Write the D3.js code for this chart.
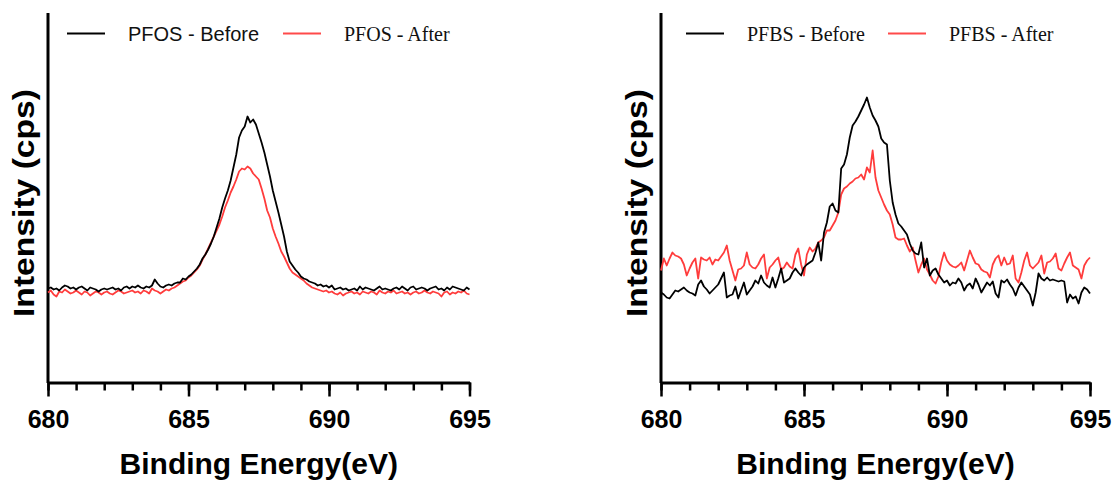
<!DOCTYPE html>
<html>
<head>
<meta charset="utf-8">
<title>XPS F 1s</title>
<script src="https://cdn.jsdelivr.net/npm/d3@7"></script>
<style>
  body { margin: 0; background: #fff; }
  svg { display: block; }
  .axis path, .axis line { stroke: #000; }
  .axis text { font: bold 25px "Liberation Sans", Arial, sans-serif; fill: #000; }
  .title { font: bold 30px "Liberation Sans", Arial, sans-serif; fill: #000; }
</style>
</head>
<body>
<script>
// binding energy grid, 0.1 eV steps from 680 to 695
var energy = d3.range(151).map(function (i) { return +(680 + i * 0.1).toFixed(1); });

var pfosBefore = [94,95,93,94,92,95,97,96,94,95,
  93,95,96,94,92,95,94,93,91,93,
  94,93,94,95,93,94,92,95,96,94,
  96,95,97,95,94,96,95,97,103,99,
  96,95,97,98,97,99,100,100,104,103,
  106,108,111,114,118,124,128,133,139,146,
  155,164,175,184,192,202,215,228,245,252,
  256,266,260,263,258,249,240,230,218,206,
  192,181,170,158,146,131,121,117,113,110,
  106,104,103,101,100,99,97,98,96,97,
  95,97,93,94,95,93,94,92,93,94,
  92,96,93,95,94,93,92,94,96,93,
  94,93,92,94,95,93,96,94,92,95,
  96,93,94,95,94,92,94,95,96,93,
  94,92,95,93,96,95,94,93,92,95,
  93];

var pfosAfter = [90,92,88,86,91,90,93,91,89,90,
  92,90,88,91,90,87,89,91,90,88,
  90,91,89,88,90,92,91,89,90,91,
  92,90,91,89,92,91,89,94,92,91,
  89,91,93,92,94,95,97,99,101,102,
  105,107,110,113,117,123,128,134,140,146,
  152,158,166,175,182,190,196,203,211,214,
  213,216,214,209,206,203,194,184,172,165,
  154,146,139,131,126,120,114,110,108,106,
  104,102,99,97,95,94,93,92,91,92,
  90,91,89,88,90,87,89,90,91,89,
  90,88,91,90,89,91,90,88,92,90,
  89,91,90,92,89,90,91,89,90,88,
  90,91,89,90,92,90,89,91,90,89,
  86,90,91,88,90,89,91,90,92,89,
  88];

var pfbsBefore = [90,88,85,84,88,92,91,93,95,92,
  90,89,87,98,102,96,93,89,92,95,
  98,104,110,85,87,88,96,84,92,100,
  88,92,96,102,99,107,100,97,95,105,
  95,104,114,100,102,104,110,114,110,107,
  115,118,120,122,130,140,122,150,160,176,
  179,172,170,214,218,228,245,257,261,266,
  272,278,285,275,267,262,256,244,240,238,
  202,180,168,159,156,152,148,139,132,129,
  128,140,115,124,107,112,114,108,104,100,
  102,97,100,99,104,100,92,97,99,94,
  104,98,90,95,100,97,101,89,85,102,
  100,103,98,94,87,95,100,96,92,88,
  77,90,109,104,102,105,102,103,102,101,
  102,101,80,88,84,86,79,90,95,93,
  89];

var pfbsAfter = [112,124,117,124,130,127,126,124,118,107,
  114,120,124,104,125,123,122,125,118,123,
  122,126,130,137,122,112,102,113,114,117,
  130,118,115,114,118,124,128,104,115,118,
  122,125,113,115,120,116,114,128,134,118,
  107,128,135,131,134,140,142,145,152,152,
  157,162,170,188,194,196,199,201,204,205,
  208,203,215,210,232,205,192,185,178,172,
  168,158,145,143,143,144,137,131,135,122,
  110,118,124,113,108,102,99,106,120,130,
  122,118,116,115,117,120,112,122,132,125,
  119,118,113,111,110,105,118,124,127,117,
  125,118,119,127,104,100,110,122,130,117,
  114,117,120,127,109,120,121,124,129,114,
  112,119,125,130,117,115,113,104,117,122,
  125];

var majorTicks = [680, 685, 690, 695];
var minorTicks = d3.range(680, 696, 1);

var svg = d3.select("body").append("svg")
  .attr("width", 1117)
  .attr("height", 481);

var y = d3.scaleLinear().domain([0, 370]).range([382.5, 12.5]);

var panels = [
  { x0: 48, x1: 469.5, before: pfosBefore, after: pfosAfter,
    labels: ["PFOS - Before", "PFOS - After"], fonts: ["sans", "serif"],
    legX: [67, 283] },
  { x0: 661, x1: 1090, before: pfbsBefore, after: pfbsAfter,
    labels: ["PFBS - Before", "PFBS - After"], fonts: ["serif", "serif"],
    legX: [686, 888] }
];

var fontFor = {
  sans: '"Liberation Sans", Arial, sans-serif',
  serif: '"Liberation Serif", "Times New Roman", serif'
};

panels.forEach(function (p) {
  var x = d3.scaleLinear().domain([680, 695]).range([p.x0, p.x1]);
  var g = svg.append("g");

  // minor ticks
  g.append("g")
    .attr("class", "axis")
    .attr("transform", "translate(0," + y(0) + ")")
    .call(d3.axisBottom(x).tickValues(minorTicks).tickSize(8).tickSizeOuter(0).tickFormat(""))
    .call(function (s) {
      s.select(".domain").remove();
      s.selectAll("line").attr("stroke-width", 2.5);
    });

  // major ticks + labels
  g.append("g")
    .attr("class", "axis")
    .attr("transform", "translate(0," + y(0) + ")")
    .call(d3.axisBottom(x).tickValues(majorTicks).tickSize(14).tickSizeOuter(0)
      .tickPadding(14).tickFormat(d3.format("d")))
    .call(function (s) {
      s.select(".domain").attr("stroke-width", 3);
      s.selectAll("line").attr("stroke-width", 2.5);
    });

  // y axis (no ticks)
  g.append("g")
    .attr("class", "axis")
    .attr("transform", "translate(" + (p.x0 - 0.5) + ",0)")
    .call(d3.axisLeft(y).tickValues([]).tickSizeOuter(0))
    .call(function (s) { s.select(".domain").attr("stroke-width", 3); });

  var line = d3.line()
    .x(function (d, i) { return x(energy[i]); })
    .y(function (d) { return y(d); });

  g.append("path")
    .datum(p.after)
    .attr("fill", "none")
    .attr("stroke", "#ff3c3c")
    .attr("stroke-width", 1.8)
    .attr("stroke-linejoin", "round")
    .attr("d", line);

  g.append("path")
    .datum(p.before)
    .attr("fill", "none")
    .attr("stroke", "#000")
    .attr("stroke-width", 1.8)
    .attr("stroke-linejoin", "round")
    .attr("d", line);

  // legend
  var colors = ["#000", "#ff4a4a"];
  p.labels.forEach(function (lab, k) {
    g.append("line")
      .attr("x1", p.legX[k]).attr("x2", p.legX[k] + 38)
      .attr("y1", 33.5).attr("y2", 33.5)
      .attr("stroke", colors[k]).attr("stroke-width", 2);
    g.append("text")
      .attr("x", p.legX[k] + 61).attr("y", 40.5)
      .style("font-family", fontFor[p.fonts[k]])
      .style("font-size", "20px")
      .attr("fill", "#111")
      .text(lab);
  });

  // axis titles
  g.append("text")
    .attr("class", "title")
    .attr("text-anchor", "middle")
    .attr("x", (p.x0 + p.x1) / 2)
    .attr("y", 474)
    .text("Binding Energy(eV)");

  g.append("text")
    .attr("class", "title")
    .attr("text-anchor", "middle")
    .attr("textLength", 228)
    .attr("lengthAdjust", "spacingAndGlyphs")
    .attr("transform", "translate(" + (p.x0 - 14) + "," + 203 + ") rotate(-90)")
    .text("Intensity (cps)");
});
</script>
</body>
</html>
